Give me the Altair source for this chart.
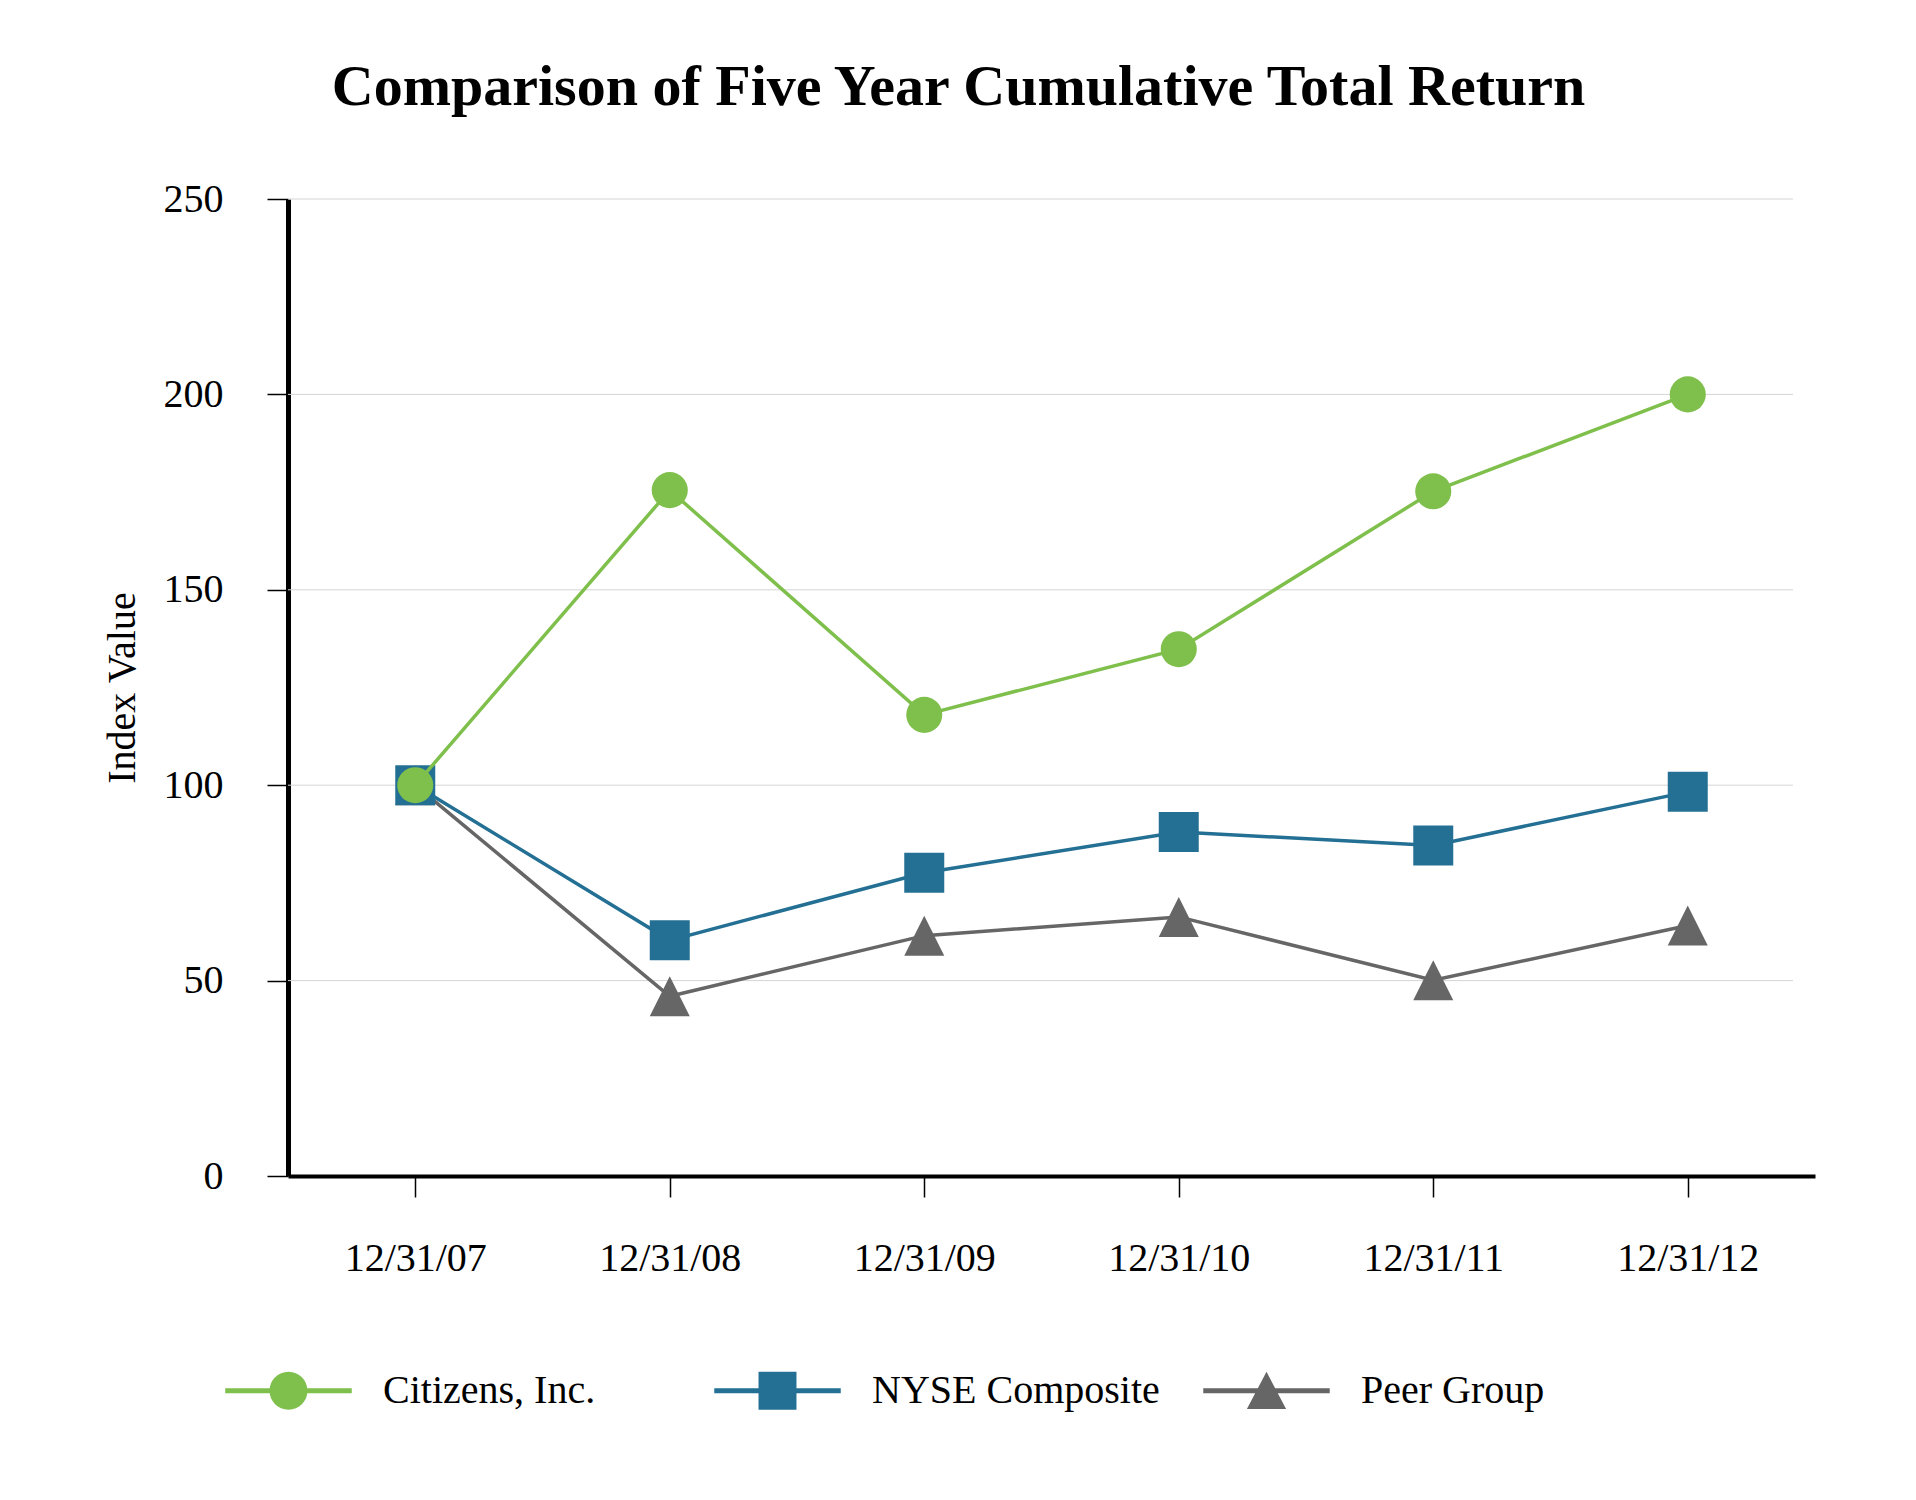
import altair as alt
import pandas as pd

# ---- data ----
dates = ["12/31/07", "12/31/08", "12/31/09", "12/31/10", "12/31/11", "12/31/12"]
series_names = ["Citizens, Inc.", "NYSE Composite", "Peer Group"]
citizens = [100, 175.5, 118, 134.8, 175.2, 200]
nyse = [100, 60.3, 77.6, 88.0, 84.6, 98.3]
peer = [100, 46, 61.5, 66.3, 50.1, 64.1]
y_ticks = [0, 50, 100, 150, 200, 250]

colors = ["#7fbf4c", "#247094", "#666666"]
plot_shapes = ["circle", "square", "M0,-1L1,1L-1,1Z"]
plot_sizes = [1300, 1600, 1600]
legend_shapes = [
    "M-1 -0.04H1V0.04H-1Z M0.3 0A0.3 0.3 0 1 1 -0.3 0A0.3 0.3 0 1 1 0.3 0Z",
    "M-1 -0.04H1V0.04H-1Z M-0.3 -0.3H0.3V0.3H-0.3Z",
    "M-1 -0.04H1V0.04H-1Z M0 -0.3L0.31 0.29L-0.31 0.29Z",
]

values = [citizens, nyse, peer]
rows = []
for name, vals in zip(series_names, values):
    for d, v in zip(dates, vals):
        rows.append({"date": d, "series": name, "value": v})
df = pd.DataFrame(rows)
grid_df = pd.DataFrame({"v": y_ticks[1:]})

FONT = "Liberation Serif"

def x_enc():
    return alt.X(
        "date:N",
        sort=dates,
        scale=alt.Scale(type="point", padding=0.5, domain=dates),
        axis=alt.Axis(title=None, labelAngle=0, labelPadding=41, grid=False, domainWidth=4),
    )

def y_enc(field="value:Q"):
    return alt.Y(
        field,
        scale=alt.Scale(domain=[0, 250], nice=False, zero=True),
        axis=alt.Axis(values=y_ticks, grid=False, title="Index Value",
                      labelPadding=44, titlePadding=21, domainWidth=5),
    )

grid = alt.Chart(grid_df).mark_rule(color="#d4d4d4", strokeWidth=1).encode(
    y=y_enc("v:Q"), x=alt.value(0), x2=alt.value(1505)
)

layers = [grid]
# draw Peer first, Citizens last (on top)
for i in [2, 1, 0]:
    sub = df[df["series"] == series_names[i]]
    base = alt.Chart(sub)
    line = base.mark_line(color=colors[i], strokeWidth=3.5).encode(x=x_enc(), y=y_enc())
    pts = base.mark_point(filled=True, opacity=1, color=colors[i], shape=plot_shapes[i],
                          size=plot_sizes[i], strokeWidth=0).encode(x=x_enc(), y=y_enc())
    layers += [line, pts]

legend = alt.Legend(
    title=None, orient="none", legendX=-63, legendY=1128, direction="horizontal",
    columns=3, gridAlign="all", columnPadding=43, symbolSize=16000,
    symbolStrokeWidth=0, labelFont=FONT, labelFontSize=40, labelColor="black",
    labelOffset=31, labelLimit=600, padding=0,
)
legend_layer = alt.Chart(df).mark_point(filled=True, opacity=1, strokeWidth=0).encode(
    color=alt.Color("series:N", scale=alt.Scale(domain=series_names, range=colors), legend=legend),
    shape=alt.Shape("series:N", scale=alt.Scale(domain=series_names, range=legend_shapes), legend=legend),
).transform_filter("false")
layers.append(legend_layer)

chart = alt.layer(*layers).properties(
    width=1527,
    height=977,
    background="white",
    padding={"left": 94, "top": 51, "right": 5, "bottom": 5},
    title=alt.TitleParams(
        "Comparison of Five Year Cumulative Total Return",
        font=FONT, fontSize=58, fontWeight="bold", color="black",
        anchor="middle", frame="bounds", offset=62,
    ),
).configure_view(stroke=None).configure_axis(
    labelFont=FONT, labelFontSize=40, labelColor="black",
    titleFont=FONT, titleFontSize=40, titleColor="black", titleFontWeight="normal",
    domainColor="black", tickColor="black", tickWidth=1.5, tickSize=21,
)

chart.save("out.html", embed_options={"renderer": "svg", "actions": False})
